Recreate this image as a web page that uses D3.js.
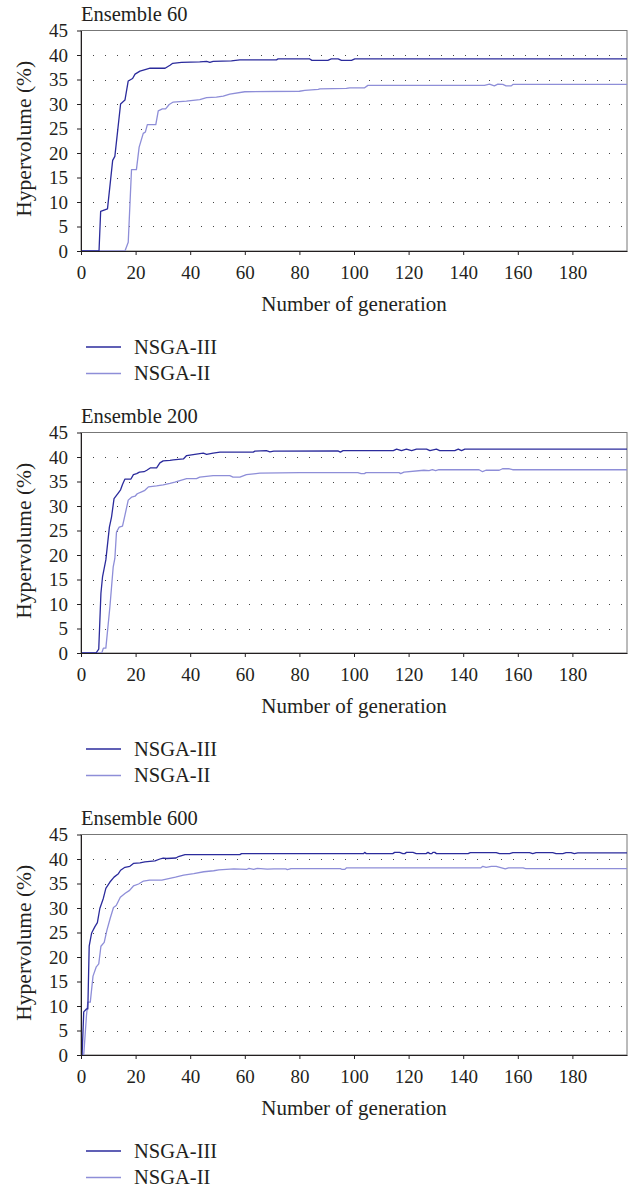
<!DOCTYPE html>
<html>
<head>
<meta charset="utf-8">
<script src="https://cdn.jsdelivr.net/npm/d3@7/dist/d3.min.js"></script>
<style>
  body { margin: 0; background: #fff; }
  svg { display: block; }
  text { font-family: "Liberation Serif", "DejaVu Serif", serif; fill: #231f20; }
</style>
</head>
<body>
<div class="canvas"></div>
<script>
// [generation, hypervolume %]
const e60_nsga3 = [[0,0],[6.6,0],[7.2,8.1],[9.7,8.6],[11.6,18.5],[12.4,19.3],[14.5,30],[16.1,30.8],[17.3,34.7],[18.9,35.2],[19.8,36.1],[21.6,36.7],[24.1,37.1],[25.3,37.3],[30.8,37.3],[32.6,37.9],[33.6,38.3],[36.8,38.5],[43.5,38.6],[46,38.7],[47.2,38.5],[48.4,38.7],[55.1,38.8],[58.2,39.0],[71.6,39.0],[72.2,39.2],[83.8,39.2],[84.6,38.9],[90.4,38.9],[91.7,39.2],[94.2,39.2],[95.4,38.9],[99.1,38.9],[100.3,39.2],[200,39.2]];
const e60_nsga2 = [[0,0],[16.1,0],[17.3,1.8],[18.5,16.6],[20.3,16.6],[21.3,21.2],[22.8,24.0],[23.6,24.3],[24.3,25.8],[27.4,25.8],[28.3,28.6],[29.8,29.0],[31,29.0],[32.3,29.9],[33.8,30.4],[38.6,30.6],[43.5,30.9],[46,31.3],[49.6,31.4],[52.1,31.6],[54.5,32.0],[60,32.5],[80,32.6],[82,32.8],[86.9,33.0],[87.5,33.1],[97.2,33.2],[98.4,33.3],[103.9,33.3],[105.1,33.8],[147.8,33.8],[149.6,34.05],[151.4,33.7],[152.7,34.05],[154.5,34.0],[155.7,33.7],[157.6,33.7],[158.2,34.0],[200,34.0]];

const e200_nsga3 = [[0,0],[5.5,0],[6.5,0.8],[7.3,12.2],[7.9,15.6],[9.1,19.0],[10.4,25.7],[11.2,27.8],[12.1,31.5],[13.7,32.7],[14.5,33.3],[15.2,34.4],[16.1,35.5],[18.3,35.5],[19.2,36.4],[20.4,36.6],[21.4,36.9],[23.1,37.0],[24.1,37.3],[25.5,37.8],[27.7,37.8],[28.9,38.8],[30.1,39.2],[32.6,39.3],[33.8,39.4],[37.5,39.6],[38.7,40.3],[41.1,40.5],[43.5,40.7],[44.8,40.8],[46,40.55],[48.4,40.8],[50.9,41.0],[63.1,41.0],[63.7,41.2],[67.9,41.3],[69.2,41.05],[70.6,41.2],[94.1,41.25],[95,41.0],[96,41.3],[114.4,41.3],[115.6,41.6],[117.4,41.3],[119.2,41.6],[121.1,41.3],[122.9,41.6],[126.6,41.6],[127.8,41.3],[130.2,41.6],[131.4,41.3],[136.9,41.3],[138.2,41.6],[139.4,41.3],[140.6,41.6],[200,41.6]];
const e200_nsga2 = [[0,0],[7.6,0],[8.2,1.0],[9.1,1.0],[10.6,9.5],[11.8,17.6],[12.4,19.3],[13.0,24.7],[14.0,25.7],[15.2,25.9],[15.7,27.1],[17.3,31.2],[18.5,31.8],[19.8,32.0],[20.6,32.5],[22.2,32.9],[23.4,33.2],[24.7,33.9],[27.7,34.1],[30.1,34.3],[32.6,34.6],[34.4,34.85],[36.2,35.2],[38.7,35.6],[42.3,35.6],[43.5,35.9],[48.4,36.2],[54.5,36.2],[55.7,35.9],[58.2,35.9],[60.6,36.4],[65.5,36.7],[80.1,36.8],[101.4,36.8],[102.6,36.6],[103.8,36.6],[104.4,36.8],[116.5,36.8],[117.1,36.6],[118.3,36.9],[125.6,37.3],[127.5,37.2],[128.7,37.4],[129.9,37.2],[131.1,37.4],[145.8,37.4],[147.1,37.0],[148.3,37.3],[153.2,37.3],[154.4,37.6],[156.9,37.6],[158.1,37.4],[200,37.4]];

const e600_nsga3 = [[0,0],[0.4,0],[1.0,8.8],[2.0,9.4],[2.5,9.4],[3.0,22.2],[3.9,24.9],[5.1,26.2],[6.0,27.0],[6.9,29.9],[8.2,32.0],[9.1,34.0],[10.6,35.3],[12.1,36.3],[13.7,37.0],[14.5,37.7],[16.1,38.3],[17.9,38.5],[19.2,39.1],[21.6,39.2],[23.4,39.4],[27.1,39.6],[28.9,40.0],[30.1,40.2],[31.4,40.1],[34.8,40.2],[35.7,40.5],[38.1,40.9],[58.2,40.9],[58.8,41.1],[103.5,41.1],[103.9,41.35],[104.5,41.1],[114.2,41.1],[114.9,41.35],[116.7,41.35],[117.9,41.1],[118.6,41.1],[119.2,41.35],[121.6,41.35],[122.8,41.1],[126.4,41.1],[127.1,41.35],[127.8,41.1],[128.5,41.1],[128.9,41.35],[129.6,41.35],[130.2,41.1],[141.8,41.1],[142.6,41.3],[152.1,41.3],[153.3,41.1],[157,41.1],[158.2,41.3],[164.3,41.3],[165.5,41.1],[166.7,41.3],[172.8,41.3],[174,41.1],[176.5,41.1],[177.7,41.3],[179.5,41.3],[180.7,41.1],[182,41.25],[200,41.25]];
const e600_nsga2 = [[0,0],[1.0,0],[2.0,8.0],[2.5,10.8],[3.4,10.8],[4.4,16.1],[5.6,18.0],[6.5,18.6],[7.3,22.2],[8.5,23.0],[9.5,25.5],[10.7,27.9],[11.9,30.1],[12.9,30.5],[14.4,32.2],[16.2,33.0],[17.8,33.6],[19.2,34.5],[21.1,34.9],[22.9,35.5],[25.1,35.7],[29.6,35.7],[32.1,36.0],[34.6,36.3],[37.6,36.7],[41.3,37.0],[45,37.4],[48.6,37.6],[50.5,37.8],[56,38.0],[60.8,37.9],[61.5,38.1],[63.3,37.9],[64.6,38.1],[68.2,37.95],[70.7,38.0],[75,38.0],[75.6,37.85],[76.9,38.05],[95,38.05],[95.5,37.9],[96.7,37.9],[97.3,38.2],[146.5,38.2],[147.2,38.5],[148.4,38.3],[150.3,38.5],[152.1,38.5],[155.4,38.0],[156.6,38.2],[161.9,38.2],[162.9,38.05],[200,38.05]];

const panels = [
  {title: 'Ensemble 60', s3: e60_nsga3, s2: e60_nsga2},
  {title: 'Ensemble 200', s3: e200_nsga3, s2: e200_nsga2},
  {title: 'Ensemble 600', s3: e600_nsga3, s2: e600_nsga2}
];
const seriesNames = ['NSGA-III', 'NSGA-II'];
const yTicks = d3.range(0, 46, 5);
const xTicks = d3.range(0, 181, 20);
const colors = ['#2b2b9c', '#8e8ed8'];

const dims = {width: 634, height: 1187};
const plot = {left: 81, right: 627, h: 220.5, step: 402, top0: 30.5};
const fs = {tick: 19, label: 20.5};

const svg = d3.select('.canvas').append('svg')
  .attr('width', dims.width).attr('height', dims.height);
svg.append('rect').attr('width', dims.width).attr('height', dims.height).attr('fill', '#fff');

const x = d3.scaleLinear().domain([0, 200]).range([plot.left, plot.right]);

panels.forEach((p, i) => {
  const top = plot.top0 + i * plot.step;
  const bottom = top + plot.h;
  const y = d3.scaleLinear().domain([0, 45]).range([bottom, top]);
  const g = svg.append('g');

  // frame (top and right are lighter)
  g.append('rect')
    .attr('x', plot.left).attr('y', top)
    .attr('width', plot.right - plot.left).attr('height', plot.h)
    .attr('fill', 'none').attr('stroke', '#777').attr('stroke-width', 1);

  // dotted horizontal grid
  g.selectAll('.grid').data(yTicks.filter(d => d > 0 && d < 45))
    .enter().append('line')
      .attr('x1', plot.left).attr('x2', plot.right)
      .attr('y1', d => Math.round(y(d)) + 0.5).attr('y2', d => Math.round(y(d)) + 0.5)
      .attr('stroke', '#444').attr('stroke-width', 1)
      .attr('stroke-dasharray', '1,11');

  const line = d3.line().x(d => x(d[0])).y(d => y(d[1]));
  [p.s2, p.s3].forEach((s, k) => {
    g.append('path').datum(s)
      .attr('d', line)
      .attr('fill', 'none')
      .attr('stroke', k === 0 ? colors[1] : colors[0])
      .attr('stroke-width', 1.3)
      .attr('stroke-linejoin', 'round');
  });

  const yAxis = g.append('g')
    .attr('transform', `translate(${plot.left},0)`)
    .call(d3.axisLeft(y).tickValues(yTicks).tickSize(4).tickSizeOuter(0).tickPadding(9));
  const xAxis = g.append('g')
    .attr('transform', `translate(0,${bottom})`)
    .call(d3.axisBottom(x).tickValues(xTicks).tickSize(4).tickSizeOuter(0).tickPadding(11));
  [yAxis, xAxis].forEach(a => {
    a.selectAll('path,line').attr('stroke', '#231f20');
    a.selectAll('text').attr('font-size', fs.tick)
      .attr('font-family', '"Liberation Serif", serif').attr('fill', '#231f20');
  });

  g.append('text').text(p.title)
    .attr('x', plot.left).attr('y', top - 10)
    .attr('font-size', fs.label);

  g.append('text').text('Hypervolume (%)')
    .attr('transform', `translate(31,${(top + bottom) / 2 - 2}) rotate(-90)`)
    .attr('text-anchor', 'middle').attr('font-size', 21.5);

  g.append('text').text('Number of generation')
    .attr('x', (plot.left + plot.right) / 2).attr('y', bottom + 60)
    .attr('text-anchor', 'middle').attr('font-size', 21);

  // legend
  seriesNames.forEach((name, k) => {
    const ly = bottom + 96 + k * 26.5;
    g.append('line')
      .attr('x1', 86).attr('x2', 121).attr('y1', ly).attr('y2', ly)
      .attr('stroke', colors[k]).attr('stroke-width', 1.3);
    g.append('text').text(name)
      .attr('x', 134).attr('y', ly + 6.5)
      .attr('font-size', fs.label);
  });
});
</script>
</body>
</html>
